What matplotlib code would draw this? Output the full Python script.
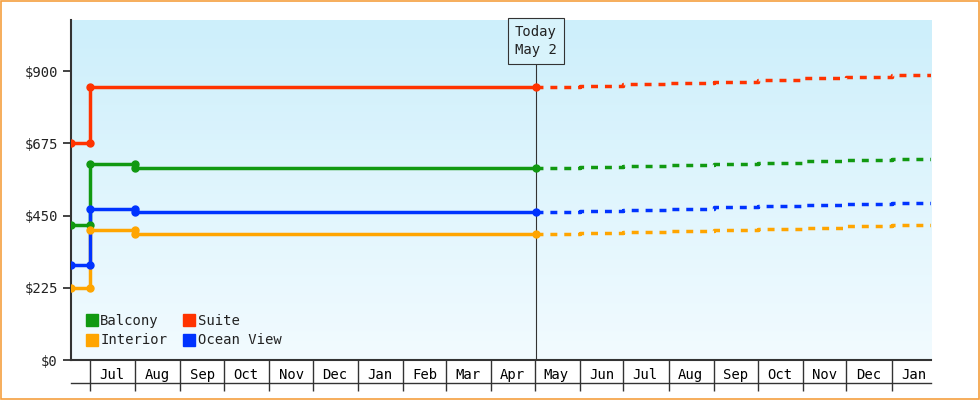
import matplotlib
matplotlib.use("Agg")
import matplotlib.pyplot as plt
import matplotlib.dates as mdates
import numpy as np
from datetime import date
from matplotlib.lines import Line2D
from matplotlib.colors import LinearSegmentedColormap

start = date(2023, 6, 18)
today = date(2024, 5, 2)
end = date(2025, 1, 28)

hist_dates = [date(2023, 6, 18), date(2023, 7, 1), date(2023, 8, 1), date(2024, 5, 2)]
balcony_hist = [420, 610, 600, 600]
suite_hist = [675, 850, 850, 850]
ocean_hist = [295, 470, 462, 462]
interior_hist = [225, 405, 393, 393]

fc_dates = [date(2024, 5, 2), date(2024, 6, 1), date(2024, 7, 1), date(2024, 8, 1), date(2024, 9, 1),
            date(2024, 10, 1), date(2024, 11, 1), date(2024, 12, 1), date(2025, 1, 1), date(2025, 1, 28)]
balcony_fc = [600, 603, 606, 609, 612, 615, 619, 623, 627, 627]
suite_fc = [850, 855, 860, 864, 868, 873, 878, 883, 888, 888]
ocean_fc = [462, 465, 469, 472, 476, 479, 483, 487, 491, 491]
interior_fc = [393, 396, 399, 402, 406, 409, 413, 417, 421, 421]

series = [("Balcony", "#119911", balcony_hist, balcony_fc),
          ("Suite", "#ff3300", suite_hist, suite_fc),
          ("Interior", "#ffa500", interior_hist, interior_fc),
          ("Ocean View", "#0033ff", ocean_hist, ocean_fc)]

plt.rcParams["font.family"] = "DejaVu Sans Mono"
fig = plt.figure(figsize=(9.8, 4), dpi=100)
fig.patch.set_facecolor("white")
fig.add_artist(plt.Rectangle((0.001, 0.002), 0.998, 0.996, transform=fig.transFigure,
                             fill=False, edgecolor="#f5a040", lw=1.2))
ax = fig.add_axes([71/980, 0.1, 860/980, 0.85])

grad = np.linspace(0, 1, 256).reshape(-1, 1)
cm = LinearSegmentedColormap.from_list("g", ["#cdeffb", "#f2fbff"])
ax.imshow(grad, cmap=cm, extent=[0, 1, 0, 1], transform=ax.transAxes, aspect="auto", zorder=0)

for name, col, h, f in series:
    hd = mdates.date2num(hist_dates)
    ax.plot(hd, h, drawstyle="steps-post", color=col, lw=2.5, zorder=3)
    idx = [i for i in range(len(h)) if i == 0 or i == len(h) - 1 or h[i] != h[i - 1]]
    ax.plot([hd[i] for i in idx], [h[i] for i in idx], "o", color=col, ms=5, zorder=4)
    ax.plot([hd[i] for i in idx[1:-1]], [h[i - 1] for i in idx[1:-1]], "o", color=col, ms=5, zorder=4)
    ax.plot(mdates.date2num(fc_dates), f, drawstyle="steps-post", color=col, lw=2.5,
            dashes=(2, 2), zorder=3)

ax.set_xlim(mdates.date2num(start), mdates.date2num(end))
ax.set_ylim(0, 1060)
ax.set_yticks([0, 225, 450, 675, 900])
ax.set_yticklabels(["$0", "$225", "$450", "$675", "$900"])
ax.tick_params(axis="y", length=6, width=1.2, labelsize=10, colors="#222222")

ax.xaxis.set_major_locator(mdates.MonthLocator())
ax.xaxis.set_major_formatter(plt.NullFormatter())
ax.xaxis.set_minor_locator(mdates.MonthLocator(bymonthday=16))
ax.xaxis.set_minor_formatter(mdates.DateFormatter("%b"))
ax.tick_params(axis="x", which="major", length=22, width=1, color="#333333")
ax.tick_params(axis="x", which="minor", length=0, labelsize=10, pad=6)
ax.add_line(Line2D([0, 1], [-23/340, -23/340], transform=ax.transAxes, color="#333333",
                   lw=1, clip_on=False))

for s in ["top", "right"]:
    ax.spines[s].set_visible(False)
for s in ["left", "bottom"]:
    ax.spines[s].set_linewidth(1.5)
    ax.spines[s].set_color("#333333")

t = mdates.date2num(today)
ax.plot([t, t], [0, 1060 * (298/340)], color="#333333", lw=0.8, zorder=2)
ax.text(t, 1060 * (319/340), "Today\nMay 2", ha="center", va="center", fontsize=10,
        color="#222222", linespacing=1.3,
        bbox=dict(boxstyle="square,pad=0.5", fc="#d8f3fb", ec="#333333", lw=0.8), zorder=5)

handles = [Line2D([], [], marker="s", ls="", color=c, ms=8, label=n) for n, c, _, _ in
           [series[0], series[2], series[1], series[3]]]
leg = ax.legend(handles=handles, ncol=2, loc="lower left", bbox_to_anchor=(0.0, 0.0), frameon=False,
                fontsize=10, handletextpad=0.0, handlelength=1.2, columnspacing=1.0, labelspacing=0.4)
for txt in leg.get_texts():
    txt.set_color("#222222")

fig.savefig("out.png", dpi=100)
